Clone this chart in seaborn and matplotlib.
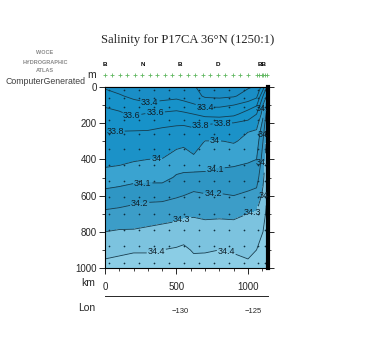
import numpy as np
import pandas as pd
import matplotlib
matplotlib.use("Agg")
import matplotlib.pyplot as plt
from matplotlib.colors import ListedColormap, BoundaryNorm
from matplotlib.ticker import MultipleLocator, FixedLocator, FuncFormatter
import matplotlib.transforms as mtransforms
import seaborn as sns

# ---------------- data ----------------
distance_km = [0, 100, 200, 300, 400, 500, 550, 620, 700, 800, 900, 1000, 1060, 1105, 1140]
depth_m = [0, 50, 100, 150, 200, 250, 300, 400, 500, 600, 700, 800, 900, 1000]

# salinity profiles, one list per distance column (values at depth_m)
sal_0 = [33.38, 33.47, 33.58, 33.66, 33.73, 33.80, 33.85, 33.96, 34.05, 34.13, 34.22, 34.30, 34.37, 34.43]
sal_100 = [33.33, 33.42, 33.54, 33.63, 33.72, 33.81, 33.86, 33.97, 34.06, 34.14, 34.23, 34.31, 34.38, 34.44]
sal_200 = [33.30, 33.36, 33.47, 33.57, 33.69, 33.82, 33.87, 33.99, 34.07, 34.16, 34.24, 34.31, 34.39, 34.45]
sal_300 = [33.28, 33.33, 33.43, 33.62, 33.72, 33.82, 33.88, 34.00, 34.07, 34.17, 34.25, 34.32, 34.39, 34.45]
sal_400 = [33.28, 33.34, 33.46, 33.64, 33.77, 33.83, 33.89, 34.005, 34.07, 34.17, 34.26, 34.33, 34.40, 34.45]
sal_500 = [33.27, 33.35, 33.50, 33.66, 33.78, 33.85, 33.96, 34.05, 34.11, 34.19, 34.27, 34.34, 34.41, 34.46]
sal_550 = [33.25, 33.32, 33.47, 33.64, 33.78, 33.86, 33.97, 34.06, 34.115, 34.20, 34.28, 34.35, 34.42, 34.47]
sal_620 = [33.22, 33.28, 33.42, 33.60, 33.76, 33.84, 33.92, 34.03, 34.13, 34.22, 34.29, 34.34, 34.39, 34.44]
sal_700 = [33.12, 33.17, 33.36, 33.53, 33.78, 33.90, 34.005, 34.06, 34.12, 34.21, 34.28, 34.34, 34.39, 34.45]
sal_800 = [33.10, 33.15, 33.37, 33.50, 33.80, 33.90, 34.005, 34.07, 34.13, 34.21, 34.28, 34.35, 34.40, 34.45]
sal_900 = [33.12, 33.18, 33.40, 33.55, 33.81, 33.90, 33.99, 34.08, 34.13, 34.20, 34.28, 34.34, 34.39, 34.44]
sal_1000 = [33.18, 33.28, 33.48, 33.70, 33.85, 34.00, 34.03, 34.09, 34.14, 34.22, 34.30, 34.35, 34.39, 34.41]
sal_1060 = [33.22, 33.35, 33.58, 33.80, 33.95, 34.02, 34.05, 34.10, 34.16, 34.23, 34.31, 34.36, 34.40, 34.43]
sal_1105 = [33.50, 33.80, 34.00, 34.08, 34.13, 34.17, 34.20, 34.24, 34.28, 34.32, 34.36, 34.40, 34.44, 34.47]
sal_1140 = [33.90, 34.10, 34.20, 34.28, 34.32, 34.34, 34.36, 34.38, 34.40, 34.42, 34.44, 34.47, 34.50, 34.52]

fill_levels = [32.0, 33.2, 33.4, 33.6, 33.8, 34.0, 34.1, 34.2, 34.3, 34.4, 35.0]
line_levels = [33.2, 33.4, 33.6, 33.8, 34.0, 34.1, 34.2, 34.3, 34.4]
fill_colors = ["#1a8cc4", "#1a8ec6", "#1792c9", "#1792c9", "#1b92c8",
               "#3aa3d0", "#2f96c4", "#3c9dc8", "#7cc3df", "#8bcde5"]

# contour label anchor points (km, m)
label_km = [315, 350, 175, 70, 700, 820, 665, 770, 360, 770, 265, 755, 245, 525, 1035, 360, 853,
            1122, 1122, 1122, 1122]
label_m = [94, 138, 193, 254, 110, 190, 200, 298, 420, 453, 547, 590, 657, 707, 707, 912, 895,
           120, 260, 420, 600]

station_km = [0, 52, 105, 157, 210, 262, 315, 367, 420, 472, 525, 577, 630, 682,
              735, 787, 840, 892, 945, 997, 1065, 1080, 1095, 1108, 1120, 1130]
station_label_km = [0, 262, 525, 787, 1100]
station_labels = ["B", "N", "B", "D", "BB"]

bottle_km = [25, 130, 235, 340, 445, 550, 655, 760, 865, 970, 1070, 1120]
bottle_depth = [15, 60, 110, 180, 260, 340, 430, 520, 610, 700, 790, 880, 970]

x_ticks = [0, 500, 1000]
y_ticks = [0, 200, 400, 600, 800, 1000]
lon_ticks = [-135, -134, -133, -132, -131, -130, -129, -128, -127, -126, -125, -124]
lon_labels = [-130, -125]
lon_left, lon_right = -135.14, -123.96

# ---------------- figure ----------------
sns.set_style("white")
plt.rcParams["font.family"] = ["Liberation Sans", "DejaVu Sans"]

fig = plt.figure(figsize=(3.75, 3.5), dpi=100)
L, B, W, H = 105 / 375, 1 - 268 / 350, (268 - 105) / 375, (268 - 87) / 350
ax = fig.add_axes([L, B, W, H])

sal = np.array([sal_0, sal_100, sal_200, sal_300, sal_400, sal_500, sal_550, sal_620,
                sal_700, sal_800, sal_900, sal_1000, sal_1060, sal_1105, sal_1140]).T
X, Y = np.meshgrid(distance_km, depth_m)
cmap = ListedColormap(fill_colors)
norm = BoundaryNorm(fill_levels, cmap.N)
ax.contourf(X, Y, sal, levels=fill_levels, cmap=cmap, norm=norm)
cs = ax.contour(X, Y, sal, levels=line_levels, colors="#163c4e", linewidths=0.6)
labels = ax.clabel(cs, fmt="%g", fontsize=6.5, colors="#10202a", inline=True,
                   inline_spacing=1, manual=list(zip(label_km, label_m)))
for t in labels:
    t.set_rotation(0)

# bottle samples
bx, by = np.meshgrid(bottle_km, bottle_depth)
dots = pd.DataFrame({"km": bx.ravel(), "depth": by.ravel()})
sns.scatterplot(data=dots, x="km", y="depth", ax=ax, s=1.5, color="#103040",
                linewidth=0, legend=False)

ax.set_xlim(0, 1140)
ax.set_ylim(1000, 0)
ax.xaxis.set_major_locator(FixedLocator(x_ticks))
ax.xaxis.set_minor_locator(MultipleLocator(100))
ax.yaxis.set_major_locator(FixedLocator(y_ticks))
ax.yaxis.set_minor_locator(MultipleLocator(100))
ax.tick_params(axis="both", which="both", direction="out", labelsize=7, pad=2,
               left=True, right=True, bottom=True, top=False)
ax.tick_params(which="major", length=4, width=0.7)
ax.tick_params(which="minor", length=2.5, width=0.6)
ax.tick_params(axis="x", pad=6)
top = ax.secondary_xaxis("top")
top.xaxis.set_major_locator(MultipleLocator(100))
top.tick_params(direction="in", length=3, width=0.6, labeltop=False)
for s in ax.spines.values():
    s.set_color("black")
    s.set_linewidth(0.8)
ax.spines["right"].set_linewidth(3)

# station markers above the section
trans = mtransforms.blended_transform_factory(ax.transData, ax.transAxes)
st = pd.DataFrame({"km": station_km, "y": [1.066] * len(station_km)})
sns.scatterplot(data=st, x="km", y="y", ax=ax, marker="+", s=7, color="#62b862",
                linewidth=0.6, transform=trans, clip_on=False, legend=False)
ax.set_xlabel("")
ax.set_ylabel("")
for k, lab in zip(station_label_km, station_labels):
    ax.text(k, 1.125, lab, transform=trans, ha="center", va="center", fontsize=4.5,
            fontweight="bold", color="black", clip_on=False)

# longitude axis
lax = fig.add_axes([L, 1 - 296 / 350, W, 0.0001])
lax.set_xlim(lon_left, lon_right)
lax.set_yticks([])
for side in ["top", "left", "right"]:
    lax.spines[side].set_visible(False)
lax.spines["bottom"].set_linewidth(0.7)
lax.patch.set_alpha(0)
lax.xaxis.set_major_locator(FixedLocator(lon_ticks))
lax.xaxis.set_major_formatter(FuncFormatter(
    lambda v, p: ("%d" % v).replace("-", "\u2212") if round(v) in lon_labels else ""))
lax.tick_params(axis="x", direction="inout", length=5, width=0.6, labelsize=5.5, pad=6)

# labels
fig.text(0.5, 1 - 40 / 350, "Salinity for P17CA 36°N (1250:1)", ha="center", va="center",
         fontsize=9.1, family=["Liberation Serif", "DejaVu Serif"])
fig.text(92 / 375, 1 - 75 / 350, "m", ha="center", va="center", fontsize=7.5)
fig.text(88 / 375, 1 - 283 / 350, "km", ha="center", va="center", fontsize=7.5)
fig.text(87 / 375, 1 - 308 / 350, "Lon", ha="center", va="center", fontsize=7.5)
for yy, t in [(53, "WOCE"), (62, "HYDROGRAPHIC"), (71, "ATLAS")]:
    fig.text(45 / 375, 1 - yy / 350, t, ha="center", va="center", fontsize=4.0,
             fontweight="bold", color="#8a8a8a")
fig.text(46 / 375, 1 - 82 / 350, "ComputerGenerated", ha="center", va="center",
         fontsize=6.3, color="#404040")

fig.savefig("out.png", dpi=100)
